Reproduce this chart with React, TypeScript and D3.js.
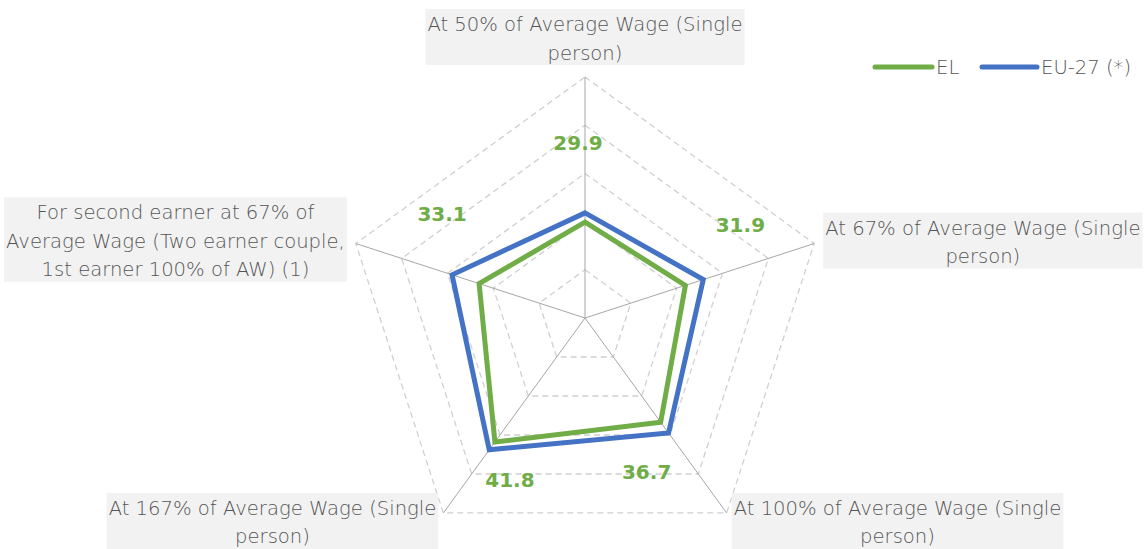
import React, { useEffect, useRef } from "react";
import * as d3 from "d3";

const categories: string[][] = [
  ["At 50% of Average Wage (Single", "person)"],
  ["At 67% of Average Wage (Single", "person)"],
  ["At 100% of Average Wage (Single", "person)"],
  ["At 167% of Average Wage (Single", "person)"],
  ["For second earner at 67% of", "Average Wage (Two earner couple,", "1st earner 100% of AW) (1)"],
];
const seriesEL = [29.9, 31.9, 36.7, 41.8, 33.1];
const seriesEU = [31.8, 35.8, 39.5, 43.8, 39.0];
const gridTicks = [20, 30, 40, 50, 60];
const domainMin = 10;
const domainMax = 60;
const seriesNames = ["EL", "EU-27 (*)"];

const W = 1146;
const H = 549;
const CX = 585;
const CY = 318;
const R = 241;
const GREEN = "#70AD47";
const BLUE = "#4472C4";
const FONT = "'DejaVu Sans', sans-serif";
const TEXT_COLOR = "#555555";
const LABEL_SIZE = 19.6;

// label offsets (px) from EL point
const valueLabelOffsets: [number, number][] = [
  [-7, -79],
  [55, -60],
  [-14, 50],
  [15, 38],
  [-37, -70],
];

export default function App() {
  const ref = useRef<SVGSVGElement | null>(null);

  useEffect(() => {
    const svg = d3.select(ref.current);
    svg.selectAll("*").remove();
    const n = categories.length;
    const r = d3.scaleLinear().domain([domainMin, domainMax]).range([0, R]);
    const ang = (i: number) => (i * 2 * Math.PI) / n;
    const pt = (i: number, v: number): [number, number] => [
      CX + r(v) * Math.sin(ang(i)),
      CY - r(v) * Math.cos(ang(i)),
    ];

    const g = svg.append("g");
    const lineClosed = d3.line<[number, number]>().curve(d3.curveLinearClosed);
    gridTicks.forEach((t) => {
      const pts = d3.range(n).map((i) => pt(i, t));
      g.append("path")
        .attr("d", lineClosed(pts))
        .attr("fill", "none")
        .attr("stroke", "#d0d0d0")
        .attr("stroke-width", 1.3)
        .attr("stroke-dasharray", "6 4");
    });
    d3.range(n).forEach((i) => {
      const [x, y] = pt(i, domainMax);
      g.append("line")
        .attr("x1", CX).attr("y1", CY).attr("x2", x).attr("y2", y)
        .attr("stroke", "#a6a6a6").attr("stroke-width", 1);
    });

    [
      { vals: seriesEU, color: BLUE },
      { vals: seriesEL, color: GREEN },
    ].forEach((s) => {
      g.append("path")
        .attr("d", lineClosed(s.vals.map((v, i) => pt(i, v))))
        .attr("fill", "none")
        .attr("stroke", s.color)
        .attr("stroke-width", 5)
        .attr("stroke-linejoin", "miter");
    });

    seriesEL.forEach((v, i) => {
      const [x, y] = pt(i, v);
      const [dx, dy] = valueLabelOffsets[i];
      g.append("text")
        .attr("x", x + dx)
        .attr("y", y + dy)
        .attr("text-anchor", "middle")
        .attr("dominant-baseline", "central")
        .attr("font-family", FONT)
        .attr("font-weight", "bold")
        .attr("font-size", 20)
        .attr("fill", GREEN)
        .text(v.toFixed(1));
    });

    const lineH = 28.5;
    categories.forEach((lines, i) => {
      const [vx, vy] = pt(i, domainMax);
      const lg = g.append("g");
      const rect = lg.append("rect").attr("fill", "#f2f2f2");
      const texts = lines.map((l) =>
        lg.append("text")
          .attr("text-anchor", "middle")
          .attr("font-family", FONT)
          .attr("font-weight", 200)
          .attr("font-size", LABEL_SIZE)
          .attr("fill", TEXT_COLOR)
          .text(l)
      );
      const widths = texts.map((t) => (t.node() as SVGTextElement).getComputedTextLength());
      const bw = (d3.max(widths) || 0) + 4;
      const bh = lines.length * lineH - 1;
      let bx = 0, by = 0;
      if (i === 0) { bx = vx - bw / 2; by = vy - 12 - bh; }
      else if (i === 1) { bx = vx + 9; by = vy - 3 - bh / 2; }
      else if (i === 2) { bx = vx + 5; by = vy - 20; }
      else if (i === 3) { bx = vx - 5 - bw; by = vy - 20; }
      else { bx = vx - 9 - bw; by = vy - 4 - bh / 2; }
      rect.attr("x", bx).attr("y", by).attr("width", bw).attr("height", bh);
      texts.forEach((t, k) => t.attr("x", bx + bw / 2).attr("y", by + 22 + k * lineH));
    });

    const legend = svg.append("g");
    const items = [
      { name: seriesNames[0], color: GREEN, x1: 875, x2: 932 },
      { name: seriesNames[1], color: BLUE, x1: 982, x2: 1037 },
    ];
    items.forEach((it) => {
      legend.append("line")
        .attr("x1", it.x1).attr("x2", it.x2).attr("y1", 67).attr("y2", 67)
        .attr("stroke", it.color).attr("stroke-width", 5).attr("stroke-linecap", "round");
      legend.append("text")
        .attr("x", it.x2 + 4).attr("y", 74)
        .attr("font-family", FONT).attr("font-weight", 200).attr("font-size", LABEL_SIZE)
        .attr("fill", TEXT_COLOR).text(it.name);
    });
  }, []);

  return (
    <svg
      ref={ref}
      width={W}
      height={H}
      style={{ position: "absolute", left: 0, top: 0, background: "#fff" }}
    />
  );
}
